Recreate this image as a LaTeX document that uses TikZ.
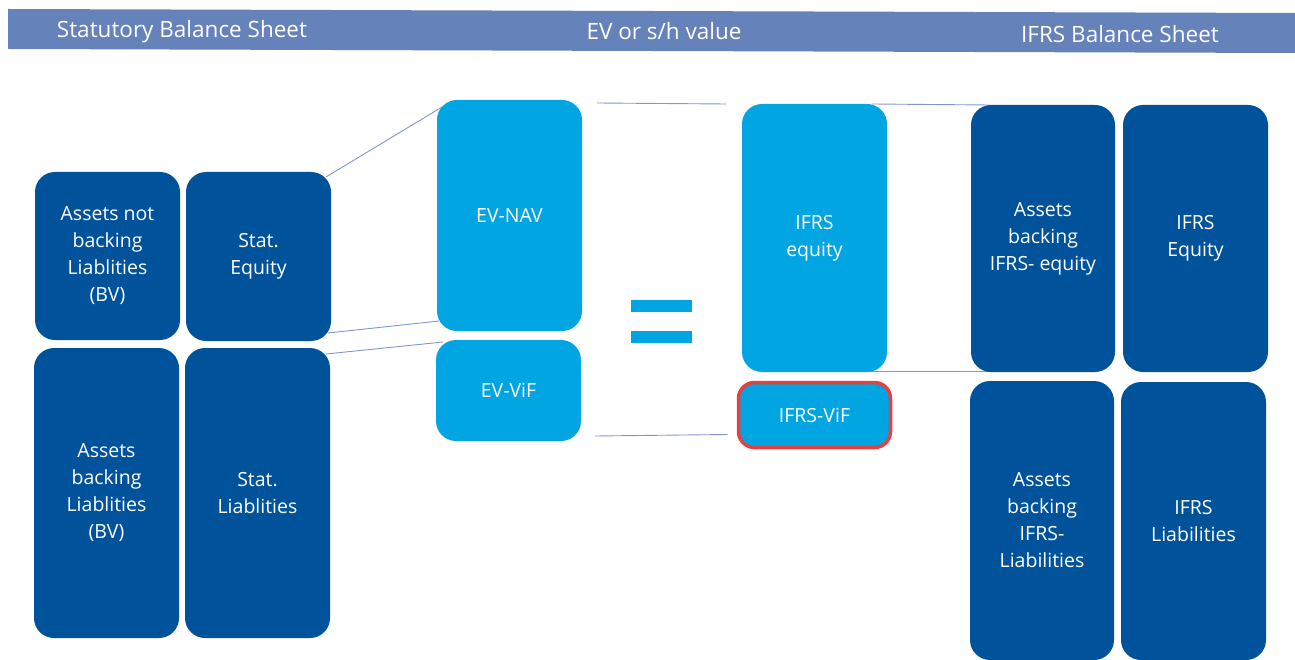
\documentclass[tikz,border=0pt]{standalone}
\usepackage{fontspec}
\setmainfont{Open Sans}
\usetikzlibrary{backgrounds}
\definecolor{navy}{RGB}{0,83,155}
\definecolor{sky}{RGB}{0,165,225}
\definecolor{band}{RGB}{102,130,187}
\definecolor{link}{RGB}{130,150,205}
\definecolor{alert}{RGB}{232,64,66}
\tikzset{
  blk/.style={rounded corners=20pt, inner sep=0pt, outer sep=0pt, align=center,
    text=white, font=\fontsize{19.5}{27}\selectfont},
  darkblk/.style={blk, fill=navy},
  lightblk/.style={blk, fill=sky},
  hdr/.style={text=white, font=\fontsize{22.5}{26}\selectfont, inner sep=0pt, anchor=base},
  lnk/.style={draw=link, line width=0.9pt}
}
\begin{document}
\begin{tikzpicture}[x=1pt, y=-1pt]
\useasboundingbox (0,0) rectangle (1295,660);
% header band
\fill[band] (8,9) -- (1295,13) -- (1295,53) -- (8,49) -- cycle;
\node[hdr] (h1) at (182,38) {Statutory Balance Sheet};
\node[hdr] (h2) at (664,40) {EV or s/h value};
\node[hdr] (h3) at (1120,42.5) {IFRS Balance Sheet};

% statutory balance sheet
\node[darkblk, minimum width=145pt, minimum height=168pt] (anb) at (107.5,256) {Assets not\\backing\\Liablities\\(BV)};
\node[darkblk, minimum width=145pt, minimum height=169pt] (steq) at (258.5,256.5) {Stat.\\Equity};
\node[darkblk, minimum width=145pt, minimum height=290pt] (abl) at (106.5,493) {Assets\\backing\\Liablities\\(BV)};
\node[darkblk, minimum width=145pt, minimum height=290pt] (stliab) at (257.5,493) {Stat.\\Liablities};

% embedded value
\node[lightblk, minimum width=145pt, minimum height=231pt] (evnav) at (509.5,215.5) {EV-NAV};
\node[lightblk, minimum width=145pt, minimum height=101pt] (evvif) at (508.5,390.5) {EV-ViF};

% equals sign
\node[fill=sky, inner sep=0pt, minimum width=61pt, minimum height=12pt] (eqa) at (661.5,306) {};
\node[fill=sky, inner sep=0pt, minimum width=61pt, minimum height=12pt] (eqb) at (661.5,337) {};

% IFRS value
\node[lightblk, minimum width=145pt, minimum height=268pt] (ifrseq) at (814.5,238) {IFRS\\equity};
\node[lightblk, draw=alert, line width=3.5pt, rounded corners=16pt,
      minimum width=152pt, minimum height=65pt] (ifrsvif) at (814.5,415) {IFRS-ViF};

% IFRS balance sheet
\node[darkblk, minimum width=144pt, minimum height=267pt] (abe) at (1043,238.5) {Assets\\backing\\IFRS- equity};
\node[darkblk, minimum width=145pt, minimum height=267pt] (ieq) at (1195.5,238.5) {IFRS\\Equity};
\node[darkblk, minimum width=144pt, minimum height=279pt] (abil) at (1042,520.5) {Assets\\backing\\IFRS-\\Liabilities};
\node[darkblk, minimum width=145pt, minimum height=278pt] (ilia) at (1193.5,521) {IFRS\\Liabilities};

% connecting lines
\begin{scope}[on background layer]
\draw[lnk] ([shift={(-5,5)}]steq.north east) -- ([shift={(5,7)}]evnav.north west);
\draw[lnk] ([shift={(-3,-8)}]steq.south east) -- ([shift={(2,-10)}]evnav.south west);
\draw[lnk] ([shift={(-4,6)}]stliab.north east) -- ([shift={(7,2)}]evvif.north west);
\draw[lnk] ([shift={(15,3)}]evnav.north east) -- ([shift={(-16,0)}]ifrseq.north west);
\draw[lnk] ([shift={(-15,0)}]ifrseq.north east) -- ([shift={(19,0)}]abe.north west);
\draw[lnk] ([shift={(-17,-1)}]ifrseq.south east) -- ([shift={(19,-1)}]abe.south west);
\draw[lnk] ([shift={(14,-5)}]evvif.south east) -- ([shift={(-11,-13)}]ifrsvif.south west);
\end{scope}
\end{tikzpicture}
\end{document}
